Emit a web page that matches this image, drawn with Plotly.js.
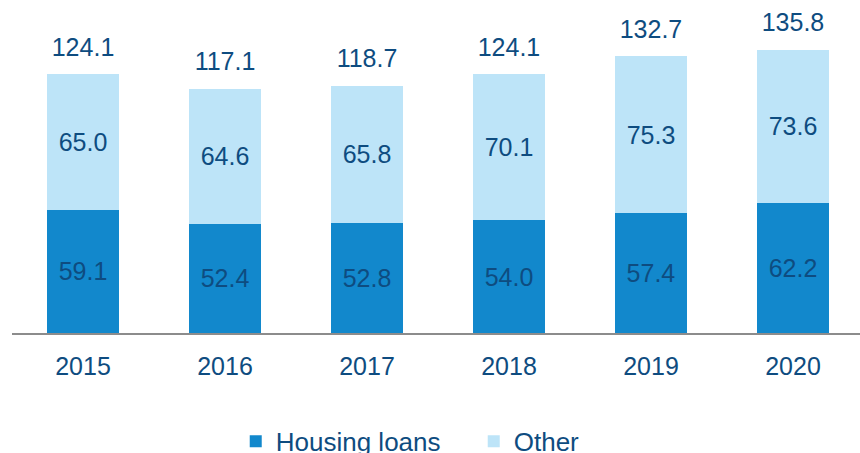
<!DOCTYPE html>
<html>
<head>
<meta charset="utf-8">
<script src="https://cdn.plot.ly/plotly-3.0.1.min.js"></script>
<style>html,body{margin:0;padding:0;background:#fff;overflow:hidden}#chart{width:860px;height:453px}</style>
</head>
<body>
<div id="chart"></div>
<script>
const years = ['2015', '2016', '2017', '2018', '2019', '2020'];
const housingLoans = [59.1, 52.4, 52.8, 54.0, 57.4, 62.2];
const other = [65.0, 64.6, 65.8, 70.1, 75.3, 73.6];
const totals = [124.1, 117.1, 118.7, 124.1, 132.7, 135.8];

const navy = '#0E4C80';
const font = 'Liberation Sans, Arial, sans-serif';
const fmt = v => v.toFixed(1);

const traces = [
  {
    type: 'bar', name: 'Housing loans', x: years, y: housingLoans,
    marker: {color: '#1288CC'}, width: 0.507,
    text: housingLoans.map(fmt), textposition: 'inside', insidetextanchor: 'middle',
    textfont: {color: navy, size: 25, family: font}, constraintext: 'none',
    hoverinfo: 'x+y'
  },
  {
    type: 'bar', name: 'Other', x: years, y: other,
    marker: {color: '#BDE4F8'}, width: 0.507,
    text: other.map(fmt), textposition: 'inside', insidetextanchor: 'middle',
    textfont: {color: navy, size: 25, family: font}, constraintext: 'none',
    hoverinfo: 'x+y'
  },
  {
    type: 'scatter', mode: 'markers+text', x: years, y: totals,
    text: totals.map(fmt), textposition: 'top center',
    marker: {size: 18, color: 'rgba(0,0,0,0)'},
    textfont: {color: navy, size: 25, family: font},
    showlegend: false, cliponaxis: false, hoverinfo: 'skip'
  }
];

const layout = {
  width: 860, height: 453,
  margin: {l: 12, r: 0, t: 0, b: 120, pad: 0, autoexpand: false},
  barmode: 'stack',
  paper_bgcolor: '#fff', plot_bgcolor: '#fff',
  font: {family: font, color: navy, size: 25},
  xaxis: {
    type: 'category', range: [-0.5, 5.472],
    showline: true, linecolor: '#8C8C8C', linewidth: 2,
    ticks: 'outside', ticklen: 10, tickcolor: 'rgba(0,0,0,0)',
    tickfont: {size: 25, color: navy, family: font},
    showgrid: false, zeroline: false
  },
  yaxis: {
    range: [0, 159.6], visible: false, showgrid: false, zeroline: false
  },
  showlegend: true,
  legend: {
    orientation: 'h', x: 0.5445, xanchor: 'center', y: -0.255, yanchor: 'top',
    font: {size: 26, color: navy, family: font}, traceorder: 'normal',
    itemwidth: 30, entrywidth: 193
  }
};

Plotly.newPlot('chart', traces, layout, {displayModeBar: false, staticPlot: true});
</script>
</body>
</html>
